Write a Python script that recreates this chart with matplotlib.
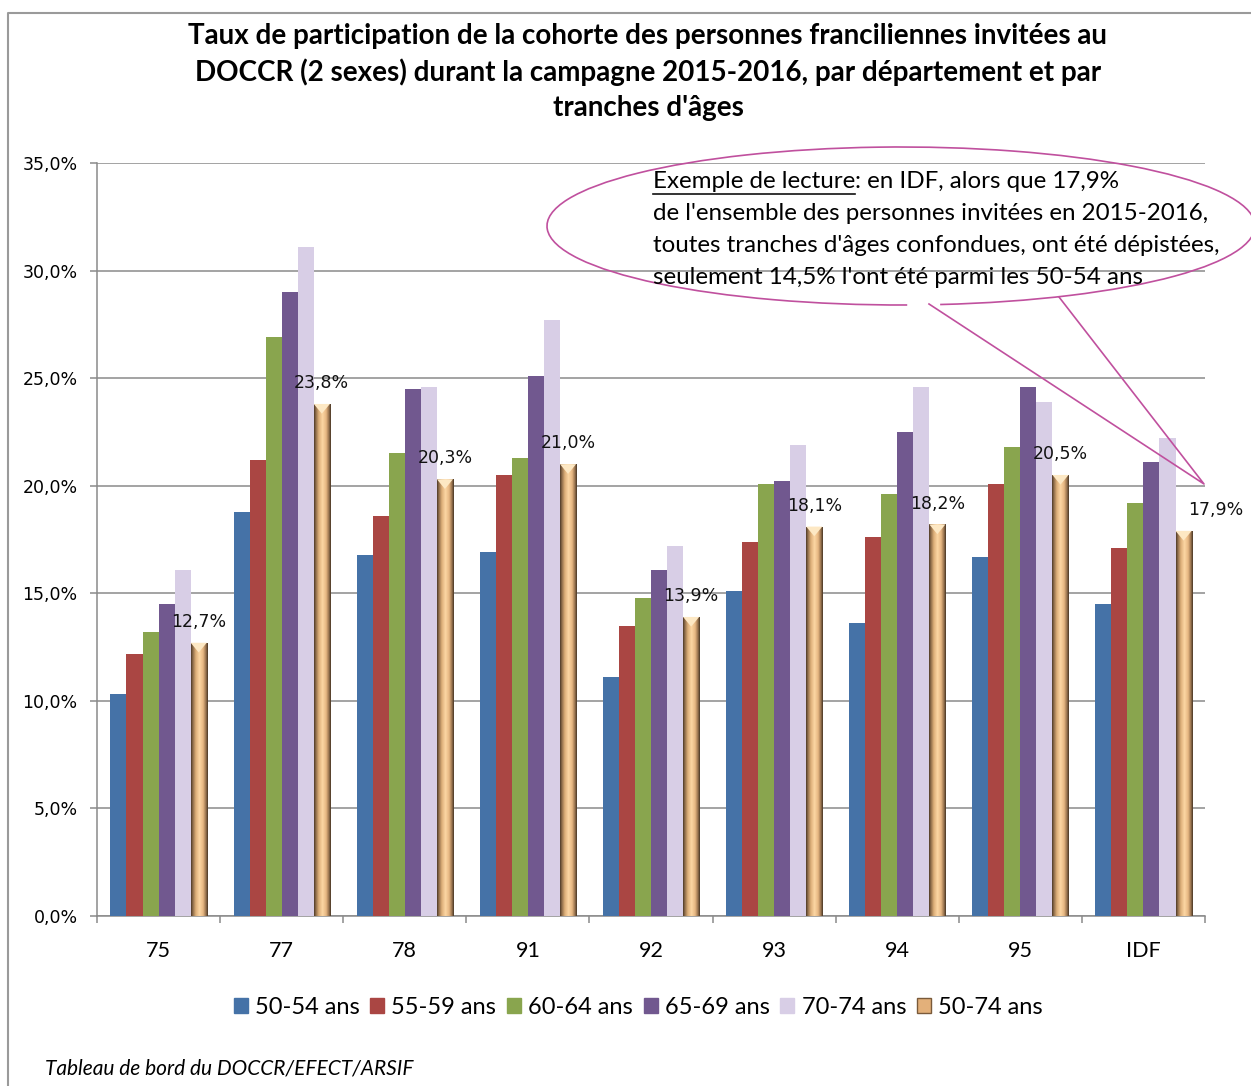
# -*- coding: utf-8 -*-
# Taux de participation DOCCR 2015-2016 par departement et tranche d'age

import numpy as np
import matplotlib
matplotlib.use('Agg')
import matplotlib.pyplot as plt
from matplotlib.patches import Rectangle, Arc, Polygon
from matplotlib.colors import LinearSegmentedColormap
from matplotlib.ticker import FuncFormatter, FixedLocator

# data
departements = ['75', '77', '78', '91', '92', '93', '94', '95', 'IDF']
series_names = ['50-54 ans', '55-59 ans', '60-64 ans', '65-69 ans', '70-74 ans', '50-74 ans']
taux_50_54 = [10.3, 18.8, 16.8, 16.9, 11.1, 15.1, 13.6, 16.7, 14.5]
taux_55_59 = [12.2, 21.2, 18.6, 20.5, 13.5, 17.4, 17.6, 20.1, 17.1]
taux_60_64 = [13.2, 26.9, 21.5, 21.3, 14.8, 20.1, 19.6, 21.8, 19.2]
taux_65_69 = [14.5, 29.0, 24.5, 25.1, 16.1, 20.2, 22.5, 24.6, 21.1]
taux_70_74 = [16.1, 31.1, 24.6, 27.7, 17.2, 21.9, 24.6, 23.9, 22.2]
taux_50_74 = [12.7, 23.8, 20.3, 21.0, 13.9, 18.1, 18.2, 20.5, 17.9]

colors = ['#4572A7', '#AA4643', '#89A54E', '#71588F', '#D8CEE6']
sans = ['Lato', 'DejaVu Sans']

W, H = 1251, 1086
fig = plt.figure(figsize=(W / 100, H / 100), dpi=100)
ax = fig.add_axes([97 / W, 1 - 916 / H, 1108 / W, 753 / H])

x = np.arange(len(departements))
w = 0.1304
all_series = [taux_50_54, taux_55_59, taux_60_64, taux_65_69, taux_70_74]
for k, vals in enumerate(all_series):
    ax.bar(x + (k - 3) * w, vals, width=w, color=colors[k], align='edge',
           edgecolor='none', zorder=3)

# gradient "bevel" bars for 50-74
gold = LinearSegmentedColormap.from_list('gold', [
    (0.0, '#4e3b28'), (0.10, '#8c6a48'), (0.28, '#dcae78'), (0.5, '#fdd7a4'),
    (0.72, '#e6b782'), (0.88, '#9c7650'), (1.0, '#4a3826')])
grad = np.linspace(0, 1, 64).reshape(1, -1)
bars = ax.bar(x + 2 * w, taux_50_74, width=w, color='#e8b882', align='edge',
              edgecolor='none', zorder=3)
for i, b in enumerate(bars):
    x0, x1, h = b.get_x(), b.get_x() + b.get_width(), b.get_height()
    im = ax.imshow(grad, cmap=gold, extent=(x0, x1, 0, h), aspect='auto', zorder=4)
    im.set_clip_path(b)
    ax.add_patch(Polygon([(x0, h), (x1, h), ((x0 + x1) / 2, h - 0.45)],
                         closed=True, color='#fde8c4', zorder=5, lw=0))
    lab = f'{h:.1f}%'.replace('.', ',')
    if i == len(bars) - 1:
        # IDF label sits to the right, next to the callout tip
        ax.text(x1 - 0.03, h + 0.55, lab, ha='left', va='bottom', fontsize=12.5,
                family='DejaVu Sans', color='#111111', zorder=6)
    else:
        ax.text((x0 + x1) / 2, h + 0.55, lab, ha='center', va='bottom', fontsize=12.5,
                family='DejaVu Sans', color='#111111', zorder=6)

ax.set_xlim(-0.5, len(departements) - 0.5)
ax.set_ylim(0, 35)
ax.set_yticks(np.arange(0, 36, 5))
ax.yaxis.set_major_formatter(FuncFormatter(lambda v, p: f'{v:.1f}%'.replace('.', ',')))
ax.grid(axis='y', color='#8a8a8a', lw=1.1, zorder=0)
ax.set_axisbelow(True)
ax.set_xticks(x)
ax.set_xticklabels(departements, fontsize=15.5, family=sans)
ax.xaxis.set_minor_locator(FixedLocator(np.arange(-0.5, len(departements), 1)))
ax.tick_params(axis='x', which='major', length=0, pad=18)
ax.tick_params(axis='x', which='minor', length=5, color='#8a8a8a', width=1.1)
ax.tick_params(axis='y', length=5, color='#8a8a8a', width=1.1, pad=9,
               labelsize=12.5)
for s in ['top', 'right']:
    ax.spines[s].set_visible(False)
for s in ['left', 'bottom']:
    ax.spines[s].set_color('#8a8a8a')
    ax.spines[s].set_linewidth(1.1)

# legend
handles = [Rectangle((0, 0), 1, 1, color=c) for c in colors]
handles.append(Rectangle((0, 0), 1, 1, facecolor='#e3b07a', edgecolor='#7a5a3a'))
fig.legend(handles, series_names, loc='center', bbox_to_anchor=(638 / W, 1 - 1007 / H),
           ncol=6, frameon=False, handlelength=0.6, handleheight=0.6,
           handletextpad=0.3, columnspacing=0.45, prop={'family': sans, 'size': 17})

# overlay in pixel coordinates: titre, bulle, cadre
ov = fig.add_axes([0, 0, 1, 1], zorder=10)
ov.set_xlim(0, W)
ov.set_ylim(H, 0)
ov.axis('off')
ov.patch.set_alpha(0)

ov.plot([8, 8, W], [H, 13, 13], color='#9a9a9a', lw=1.5)

title_lines = ['Taux de participation de la cohorte des personnes franciliennes invitées au',
               'DOCCR (2 sexes) durant la campagne 2015-2016, par département et par',
               "tranches d'âges"]
for i, t in enumerate(title_lines):
    ov.text(648, 36 + 36 * i, t, ha='center', va='center', fontsize=20,
            fontweight='bold', family=sans)

pink = '#C0509E'
ov.add_patch(Arc((901, 226), 708, 158, theta1=85.5, theta2=423.5, color=pink, lw=1.2))
ov.plot([929, 1204, 1059], [304, 484, 297], color=pink, lw=1.2)

fs_b = 17.4
r = fig.canvas.get_renderer()
t1 = ov.text(653, 181, 'Exemple de lecture', ha='left', va='center', fontsize=fs_b,
             family=sans)
bb = t1.get_window_extent(r)
x_end = bb.x1
ov.plot([653, x_end], [194, 194], color='#111111', lw=1.2)
ov.text(x_end, 181, ': en IDF, alors que 17,9%', ha='left', va='center', fontsize=fs_b,
        family=sans)
bulle = ["de l'ensemble des personnes invitées en 2015-2016,",
         "toutes tranches d'âges confondues, ont été dépistées,",
         "seulement 14,5% l'ont été parmi les 50-54 ans"]
for i, t in enumerate(bulle):
    ov.text(653, 213 + 32 * i, t, ha='left', va='center', fontsize=fs_b, family=sans)

ov.text(45, 1068, 'Tableau de bord du DOCCR/EFECT/ARSIF', ha='left', va='center',
        fontsize=15, style='italic', family=sans)

plt.savefig('out.png', dpi=100)
